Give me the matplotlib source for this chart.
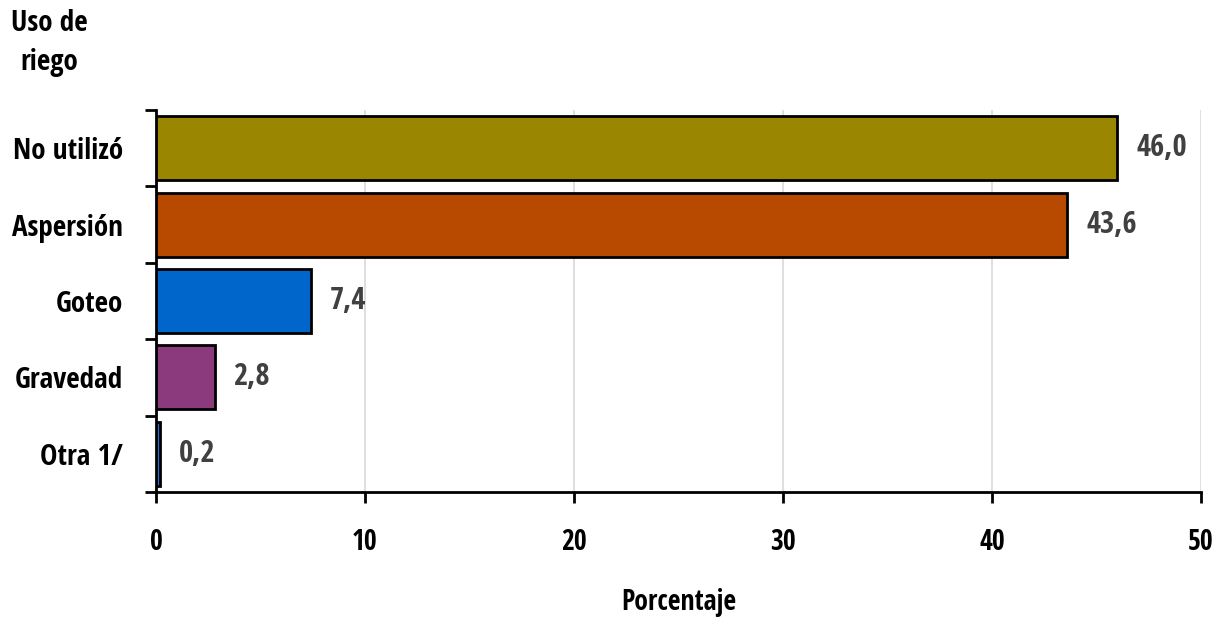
import os
import matplotlib
matplotlib.use("Agg")
import matplotlib.pyplot as plt
from matplotlib import font_manager
from matplotlib.font_manager import FontProperties

categories = ["No utilizó", "Aspersión", "Goteo", "Gravedad", "Otra 1/"]
values = [46.0, 43.6, 7.4, 2.8, 0.2]
labels = ["46,0", "43,6", "7,4", "2,8", "0,2"]
colors = ["#9A8600", "#B84A00", "#0066CC", "#8C3A7E", "#2F6FD0"]
xticks = [0, 10, 20, 30, 40, 50]


def pick_font():
    best = None
    for f in font_manager.fontManager.ttflist:
        base = os.path.basename(f.fname).lower()
        if ("condensed" in base or "narrow" in base or
                str(f.stretch) in ("condensed", "semi-condensed", "extra-condensed")):
            score = 0
            if "open" in base:
                score += 10
            w = f.weight if isinstance(f.weight, int) else 400
            if "semibold" in base or w == 600:
                score += 7
            elif "medium" in base or w == 500:
                score += 6
            elif "extrabold" in base or w >= 800:
                score += 1
            elif "bold" in base or w == 700:
                score += 4
            elif "light" in base or w < 400:
                score += 0
            else:
                score += 2
            if "italic" in base or "oblique" in base:
                score -= 20
            if best is None or score > best[0]:
                best = (score, f.fname)
    return best[1] if best else None


fpath = pick_font()
if fpath:
    def fp(size):
        return FontProperties(fname=fpath, size=size)
else:
    def fp(size):
        return FontProperties(family="Open Sans", weight="semibold", size=size * 0.85)

fig = plt.figure(figsize=(12.23, 6.17), dpi=100)
ax = fig.add_axes([0.1276, 0.2026, 0.8544, 0.6191])

y = list(range(len(categories)))
ax.barh(y, values, height=0.84, color=colors, edgecolor="black", linewidth=2, zorder=3)
for yi, v, lab in zip(y, values, labels):
    ax.text(v + 0.9, yi, lab, va="center", ha="left", fontproperties=fp(22), color="#404040")

ax.set_ylim(len(categories) - 0.5, -0.5)
ax.set_xlim(0, 50)
ax.set_xticks(xticks)
ax.set_xticklabels([str(t) for t in xticks], fontproperties=fp(20))
ax.set_yticks(y)
ax.set_yticklabels(categories, fontproperties=fp(21))
ax.tick_params(axis="y", length=0, pad=24)
ax.set_yticks([i - 0.5 for i in range(len(categories) + 1)], minor=True)
ax.tick_params(axis="y", which="minor", length=8, width=2)
ax.tick_params(axis="x", length=8, width=2, pad=18)
ax.grid(axis="x", color="#D9D9D9", linewidth=1.2, zorder=0)
for s in ["top", "right"]:
    ax.spines[s].set_visible(False)
for s in ["left", "bottom"]:
    ax.spines[s].set_linewidth(2)
ax.set_xlabel("Porcentaje", fontproperties=fp(20), labelpad=22)
fig.text(0.040, 0.985, "Uso de\nriego", ha="center", va="top", fontproperties=fp(21),
         linespacing=1.45)
fig.savefig("out.png", dpi=100)
